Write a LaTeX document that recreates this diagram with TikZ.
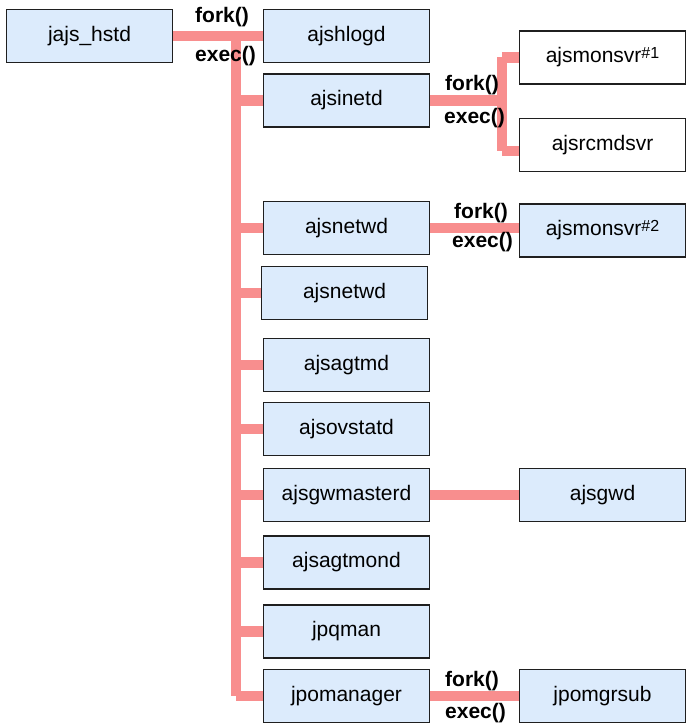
\documentclass[tikz,border=0pt]{standalone}
\usepackage{fontspec}
\setmainfont{Liberation Sans}
\definecolor{procfill}{HTML}{DCEBFC}
\definecolor{connpink}{HTML}{F88E8E}
\definecolor{boxline}{HTML}{1F1F1F}
\pgfdeclarelayer{paper}
\pgfdeclarelayer{background}
\pgfsetlayers{paper,background,main}
\newcommand\supnum[1]{\raisebox{4pt}{\fontsize{16}{16}\selectfont #1}}
\begin{document}
\begin{tikzpicture}[x=1pt,y=-1pt,
  proc/.style={draw=boxline, line width=1.4pt, fill=procfill,
    minimum width=166pt, minimum height=53pt, inner sep=0pt,
    font=\fontsize{21}{25}\selectfont},
  child/.style={proc, fill=white},
  conn/.style={draw=connpink, line width=10.5pt},
  call/.style={font=\bfseries\fontsize{21}{25}\selectfont, anchor=west, inner sep=0pt}]

\begin{pgfonlayer}{paper}
  \fill[white] (0,0) rectangle (686,727);
\end{pgfonlayer}
\useasboundingbox (0,0) rectangle (686,727);

% processes
\node[proc] (hstd) at (89.5,36) {jajs\_hstd};
\node[proc] (hlogd) at (346.5,36) {ajshlogd};
\node[proc] (inetd) at (346.5,100.5) {ajsinetd};
\node[child] (mon1) at (602.5,57.5) {ajsmonsvr\supnum{\#1}};
\node[child] (rcmd) at (602.5,145) {ajsrcmdsvr};
\node[proc] (netwdA) at (346.5,228) {ajsnetwd};
\node[proc] (mon2) at (602.5,230.5) {ajsmonsvr\supnum{\#2}};
\node[proc] (netwdB) at (344.5,293) {ajsnetwd};
\node[proc] (agtmd) at (346.5,365) {ajsagtmd};
\node[proc] (ovstatd) at (346.5,429) {ajsovstatd};
\node[proc] (gwmaster) at (346.5,495) {ajsgwmasterd};
\node[proc] (gwd) at (602.5,495) {ajsgwd};
\node[proc] (agtmond) at (346.5,562.5) {ajsagtmond};
\node[proc] (jpqman) at (346.5,631.5) {jpqman};
\node[proc] (jpoman) at (346.5,696) {jpomanager};
\node[proc] (jpomgr) at (602.5,696) {jpomgrsub};

% junction points
\coordinate (trunktop) at (236,36);
\coordinate (forkx) at (502,100.5);
\coordinate (jbot) at (502,151);

\begin{pgfonlayer}{background}
  % main trunk from jajs_hstd
  \draw[conn] (hstd.east) -- (hlogd.west);
  \draw[conn, line cap=square] (trunktop) -- (trunktop |- jpoman.west);
  \foreach \n in {inetd,netwdA,netwdB,agtmd,ovstatd,gwmaster,agtmond,jpqman,jpoman}
    \draw[conn] (trunktop |- \n.west) -- (\n.west);
  % ajsinetd children
  \draw[conn] (inetd.east) -- (forkx);
  \draw[conn, line cap=square] (mon1.west -| forkx) -- (jbot);
  \draw[conn] (mon1.west -| forkx) -- (mon1.west);
  \draw[conn] (jbot) -- (jbot -| rcmd.west);
  % other children
  \draw[conn] (netwdA.east) -- (netwdA.east -| mon2.west);
  \draw[conn] (gwmaster.east) -- (gwmaster.east -| gwd.west);
  \draw[conn] (jpoman.east) -- (jpomgr.west);
\end{pgfonlayer}

% call labels
\node[call] (fork1) at (195,17) {fork()};
\node[call] (exec1) at (195,56) {exec()};
\node[call] (fork2) at (445,85) {fork()};
\node[call] (exec2) at (444,118) {exec()};
\node[call] (fork3) at (454,213) {fork()};
\node[call] (exec3) at (452,242) {exec()};
\node[call] (fork4) at (445,681) {fork()};
\node[call] (exec4) at (445,713) {exec()};
\end{tikzpicture}
\end{document}
